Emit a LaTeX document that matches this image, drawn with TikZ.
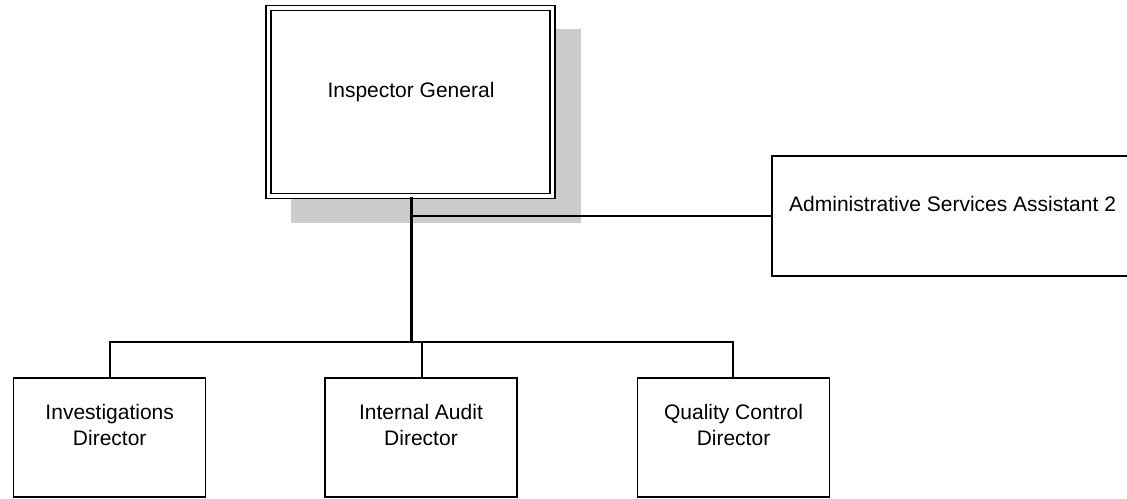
\documentclass[tikz,border=0pt]{standalone}
\usepackage{fontspec}
\setmainfont{Liberation Sans}
\begin{document}
\begin{tikzpicture}[x=1pt,y=-1pt,
  box/.style={draw=black,line width=1.6pt,fill=white,rectangle,inner sep=0pt,minimum width=192pt,minimum height=119.5pt},
  lbl/.style={font=\fontsize{21}{25.7}\selectfont,inner sep=0pt,align=center,anchor=base},
  conn/.style={draw=black,line width=1.6pt},
  thick conn/.style={draw=black,line width=2.8pt}]
\useasboundingbox (0,0) rectangle (1127,498);
% shadow
\fill[gray!40] (290.5,29.3) rectangle (580.7,223);
% Inspector General box (double border)
\node[draw=black,double=white,double distance=3.4pt,line width=1.5pt,fill=white,rectangle,inner sep=0pt,
  minimum width=284pt,minimum height=188pt] (ig) at (410.5,101.8) {};
\node[lbl] (igt) at (411,97) {Inspector General};
% Admin box
\node[box,minimum width=368pt,minimum height=120pt] (adm) at (955.8,216) {};
\node[lbl,anchor=base west] (admt) at (789,211.7) {Administrative Services Assistant 2};
% bottom boxes
\node[box] (inv) at (109.5,437.5) {};
\node[box] (aud) at (421,437.5) {};
\node[box] (qc) at (733.5,437.5) {};
\node[lbl] (invt) at (109.7,445) {Investigations\\Director};
\node[lbl] (audt) at (421,445) {Internal Audit\\Director};
\node[lbl] (qct) at (733.5,445) {Quality Control\\Director};
% connectors
\coordinate (bus) at (411.7,342);
\coordinate (tap) at (411.7,215.8);
\draw[thick conn] (ig.south -| bus) -- (bus);
\draw[conn] (tap) -- (tap -| adm.west);
\draw[conn] (inv.north -| 110,0) -- (110,342) -- (733,342) -- (qc.north -| 733,0);
\draw[conn] (aud.north -| 421.7,0) -- (421.7,342);
\end{tikzpicture}
\end{document}
